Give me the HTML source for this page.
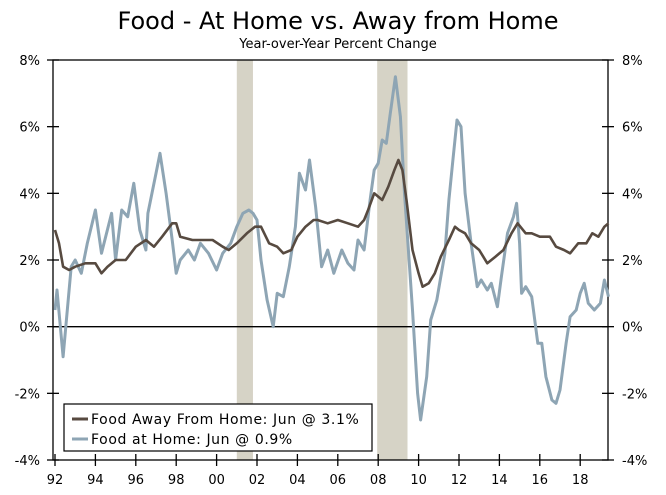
<!DOCTYPE html>
<html><head><meta charset="utf-8"><style>
body{margin:0;background:#fff;font-family:"DejaVu Sans","Liberation Sans",sans-serif}
#wrap{position:relative;width:666px;height:495px;overflow:hidden}
</style></head><body>
<div id="wrap">
<svg id="svg" width="666" height="495" xmlns="http://www.w3.org/2000/svg"></svg>
</div>
<script>
const yTicks=[8,6,4,2,0,-2,-4];
const xTickYears=[1992,1994,1996,1998,2000,2002,2004,2006,2008,2010,2012,2014,2016,2018];
const xTickLabels=["92","94","96","98","00","02","04","06","08","10","12","14","16","18"];
const recessions=[[2001.0,2001.8],[2007.95,2009.45]];
const homeDates=[1992.0,1992.1,1992.4,1992.8,1993.0,1993.3,1993.6,1994.0,1994.3,1994.8,1995.0,1995.3,1995.6,1995.9,1996.2,1996.5,1996.6,1997.0,1997.2,1997.5,1997.8,1998.0,1998.2,1998.6,1998.9,1999.2,1999.6,2000.0,2000.3,2000.7,2001.0,2001.3,2001.6,2001.8,2002.0,2002.2,2002.5,2002.8,2003.0,2003.3,2003.6,2003.9,2004.1,2004.4,2004.6,2004.9,2005.2,2005.5,2005.8,2006.2,2006.5,2006.8,2007.0,2007.3,2007.6,2007.8,2008.0,2008.2,2008.4,2008.6,2008.85,2009.1,2009.3,2009.7,2009.95,2010.1,2010.4,2010.6,2010.9,2011.1,2011.3,2011.5,2011.7,2011.9,2012.1,2012.3,2012.6,2012.9,2013.1,2013.4,2013.6,2013.9,2014.1,2014.4,2014.7,2014.85,2015.0,2015.1,2015.3,2015.6,2015.9,2016.1,2016.3,2016.6,2016.8,2017.0,2017.3,2017.5,2017.8,2018.0,2018.2,2018.4,2018.7,2019.0,2019.2,2019.4];
const homeValues=[0.5,1.1,-0.9,1.8,2.0,1.6,2.5,3.5,2.2,3.4,2.0,3.5,3.3,4.3,2.9,2.3,3.4,4.6,5.2,4.0,2.6,1.6,2.0,2.3,2.0,2.5,2.2,1.7,2.2,2.5,3.0,3.4,3.5,3.4,3.2,2.0,0.8,0.0,1.0,0.9,1.8,3.0,4.6,4.1,5.0,3.6,1.8,2.3,1.6,2.3,1.9,1.7,2.6,2.3,3.8,4.7,4.9,5.6,5.5,6.4,7.5,6.3,4.0,0.5,-2.0,-2.8,-1.5,0.2,0.8,1.5,2.2,3.8,5.0,6.2,6.0,4.0,2.5,1.2,1.4,1.1,1.3,0.6,1.5,2.8,3.3,3.7,2.5,1.0,1.2,0.9,-0.5,-0.5,-1.5,-2.2,-2.3,-1.9,-0.5,0.3,0.5,1.0,1.3,0.7,0.5,0.7,1.4,0.9];
const awayDates=[1992.0,1992.2,1992.4,1992.7,1993.0,1993.5,1994.0,1994.3,1994.6,1995.0,1995.5,1996.0,1996.5,1996.9,1997.3,1997.8,1998.0,1998.2,1998.8,1999.3,1999.8,2000.3,2000.6,2001.0,2001.5,2001.9,2002.2,2002.6,2003.0,2003.3,2003.7,2004.0,2004.4,2004.8,2005.0,2005.5,2006.0,2006.5,2007.0,2007.3,2007.5,2007.8,2008.2,2008.5,2008.8,2009.0,2009.2,2009.4,2009.7,2010.0,2010.2,2010.5,2010.8,2011.1,2011.5,2011.8,2012.0,2012.3,2012.6,2013.0,2013.4,2013.8,2014.2,2014.6,2014.9,2015.3,2015.6,2016.0,2016.5,2016.8,2017.2,2017.5,2017.9,2018.3,2018.6,2018.9,2019.2,2019.4];
const awayValues=[2.9,2.5,1.8,1.7,1.8,1.9,1.9,1.6,1.8,2.0,2.0,2.4,2.6,2.4,2.7,3.1,3.1,2.7,2.6,2.6,2.6,2.4,2.3,2.5,2.8,3.0,3.0,2.5,2.4,2.2,2.3,2.7,3.0,3.2,3.2,3.1,3.2,3.1,3.0,3.2,3.5,4.0,3.8,4.2,4.7,5.0,4.7,3.8,2.3,1.6,1.2,1.3,1.6,2.1,2.6,3.0,2.9,2.8,2.5,2.3,1.9,2.1,2.3,2.8,3.1,2.8,2.8,2.7,2.7,2.4,2.3,2.2,2.5,2.5,2.8,2.7,3.0,3.1];

const L=53,R=608,T=60,B=460;
const xS=y=>55+(y-1992)*20.2;
const yS=v=>T+(8-v)*(B-T)/12;
const NS="http://www.w3.org/2000/svg";
const svg=document.getElementById('svg');
function mk(tag,attrs,name){const e=document.createElementNS(NS,tag);for(const k in attrs)e.setAttribute(k,attrs[k]);


svg.appendChild(e);return e;}
function txt(s,attrs,name){const e=mk('text',attrs,name);e.textContent=s;return e;}

recessions.forEach(r=>mk('rect',{x:xS(r[0]),y:T,width:xS(r[1])-xS(r[0]),height:B-T,fill:'#d6d3c6'},'recession-band'));
mk('line',{x1:L,y1:yS(0),x2:R,y2:yS(0),stroke:'#000','stroke-width':1.3},'zero-line');
mk('rect',{x:L,y:T,width:R-L,height:B-T,fill:'none',stroke:'#000','stroke-width':1.3},'plot-frame');
yTicks.forEach(v=>{const y=yS(v);
mk('line',{x1:L-6,y1:y,x2:L+6,y2:y,stroke:'#000','stroke-width':1.3},'y-tick-left');
mk('line',{x1:R-6,y1:y,x2:R+6,y2:y,stroke:'#000','stroke-width':1.3},'y-tick-right');
txt(v+'%',{x:40,y:y+5,'text-anchor':'end','font-size':13,fill:'#000'},'y-label-left');
txt(v+'%',{x:622,y:y+5,'text-anchor':'start','font-size':13,fill:'#000'},'y-label-right');});
xTickYears.forEach((yr,i)=>{const x=xS(yr);
mk('line',{x1:x,y1:B-6,x2:x,y2:B+6,stroke:'#000','stroke-width':1.3},'x-tick');
txt(xTickLabels[i],{x:x,y:484,'text-anchor':'middle','font-size':13,fill:'#000'},'x-label');});
function path(d,v,col,w,name){let s='';d.forEach((t,i)=>{s+=(i?'L':'M')+xS(t).toFixed(1)+','+yS(v[i]).toFixed(1);});
mk('path',{d:s,fill:'none',stroke:col,'stroke-width':w,'stroke-linejoin':'round'},name);}
path(homeDates,homeValues,'#8ea5b4',3,'food-at-home-line');
path(awayDates,awayValues,'#574a40',2.6,'food-away-line');
txt('Food - At Home vs. Away from Home',{x:338,y:29,'text-anchor':'middle','font-size':24,fill:'#000'},'chart-title');
txt('Year-over-Year Percent Change',{x:338,y:48,'text-anchor':'middle','font-size':13,fill:'#000'},'chart-subtitle');
mk('rect',{x:64,y:404,width:308,height:47,fill:'#fff',stroke:'#000','stroke-width':1.2},'legend');
mk('line',{x1:72,y1:419,x2:88,y2:419,stroke:'#574a40','stroke-width':3},'legend-swatch-away');
txt('Food Away From Home: Jun @ 3.1%',{x:91,y:424,'font-size':14,'letter-spacing':0.6,fill:'#000'},'legend-label-away');
mk('line',{x1:72,y1:439,x2:88,y2:439,stroke:'#8ea5b4','stroke-width':3},'legend-swatch-home');
txt('Food at Home: Jun @ 0.9%',{x:91,y:444,'font-size':14,'letter-spacing':0.6,fill:'#000'},'legend-label-home');
</script>
</body></html>
